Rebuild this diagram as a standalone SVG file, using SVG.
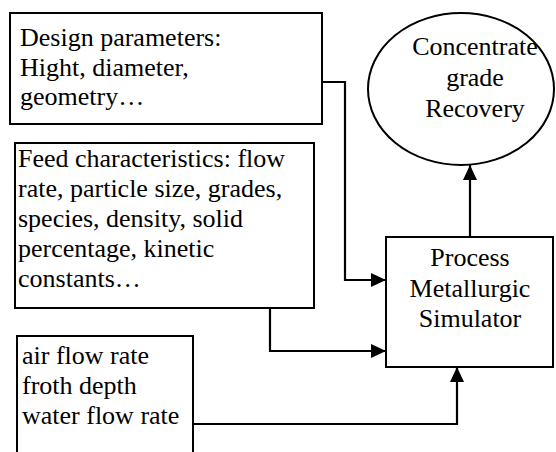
<svg xmlns="http://www.w3.org/2000/svg" width="556" height="452" viewBox="0 0 556 452">
<style>
.box{fill:#fff;stroke:#000;stroke-width:2}
.t{font-size:26px;fill:#000}
.c{text-anchor:middle}
.ln{fill:none;stroke:#000;stroke-width:2.2}
</style>
<defs>
<marker id="ah" markerWidth="15" markerHeight="14" refX="15" refY="7" orient="auto" markerUnits="userSpaceOnUse">
<path d="M0,0 L15,7 L0,14 Z" fill="#000"/>
</marker>
</defs>
<g font-family="'Liberation Serif', 'Times New Roman', serif">
<g id="design">
<rect class="box" x="10" y="13" width="312" height="111"/>
<text class="t" x="20" y="46">Design parameters:</text>
<text class="t" x="20" y="75.5">Hight, diameter,</text>
<text class="t" x="20" y="105">geometry…</text>
</g>
<g id="output">
<ellipse cx="461" cy="89" rx="93" ry="76" fill="#fff" stroke="#000" stroke-width="2"/>
<text class="t c" x="475" y="55">Concentrate</text>
<text class="t c" x="475" y="86">grade</text>
<text class="t c" x="475" y="117">Recovery</text>
</g>
<g id="feed">
<rect class="box" x="15" y="143" width="299" height="165"/>
<text class="t" x="18" y="167">Feed characteristics: flow</text>
<text class="t" x="18" y="197">rate, particle size, grades,</text>
<text class="t" x="18" y="227">species, density, solid</text>
<text class="t" x="18" y="257">percentage, kinetic</text>
<text class="t" x="18" y="287">constants…</text>
</g>
<g id="operating">
<rect class="box" x="17" y="336" width="176" height="130"/>
<text class="t" x="22" y="364">air flow rate</text>
<text class="t" x="22" y="394">froth depth</text>
<text class="t" x="22" y="424">water flow rate</text>
</g>
<g id="simulator">
<rect class="box" x="386" y="237" width="167" height="130"/>
<text class="t c" x="470" y="266">Process</text>
<text class="t c" x="470" y="297">Metallurgic</text>
<text class="t c" x="470" y="327">Simulator</text>
</g>
</g>
<g id="connectors">
<polyline class="ln" points="322,82 345,82 345,280 386,280" marker-end="url(#ah)"/>
<polyline class="ln" points="270,308 270,351 386,351" marker-end="url(#ah)"/>
<polyline class="ln" points="193,424 457,424 457,367" marker-end="url(#ah)"/>
<polyline class="ln" points="470,237 470,165" marker-end="url(#ah)"/>
</g>
</svg>
